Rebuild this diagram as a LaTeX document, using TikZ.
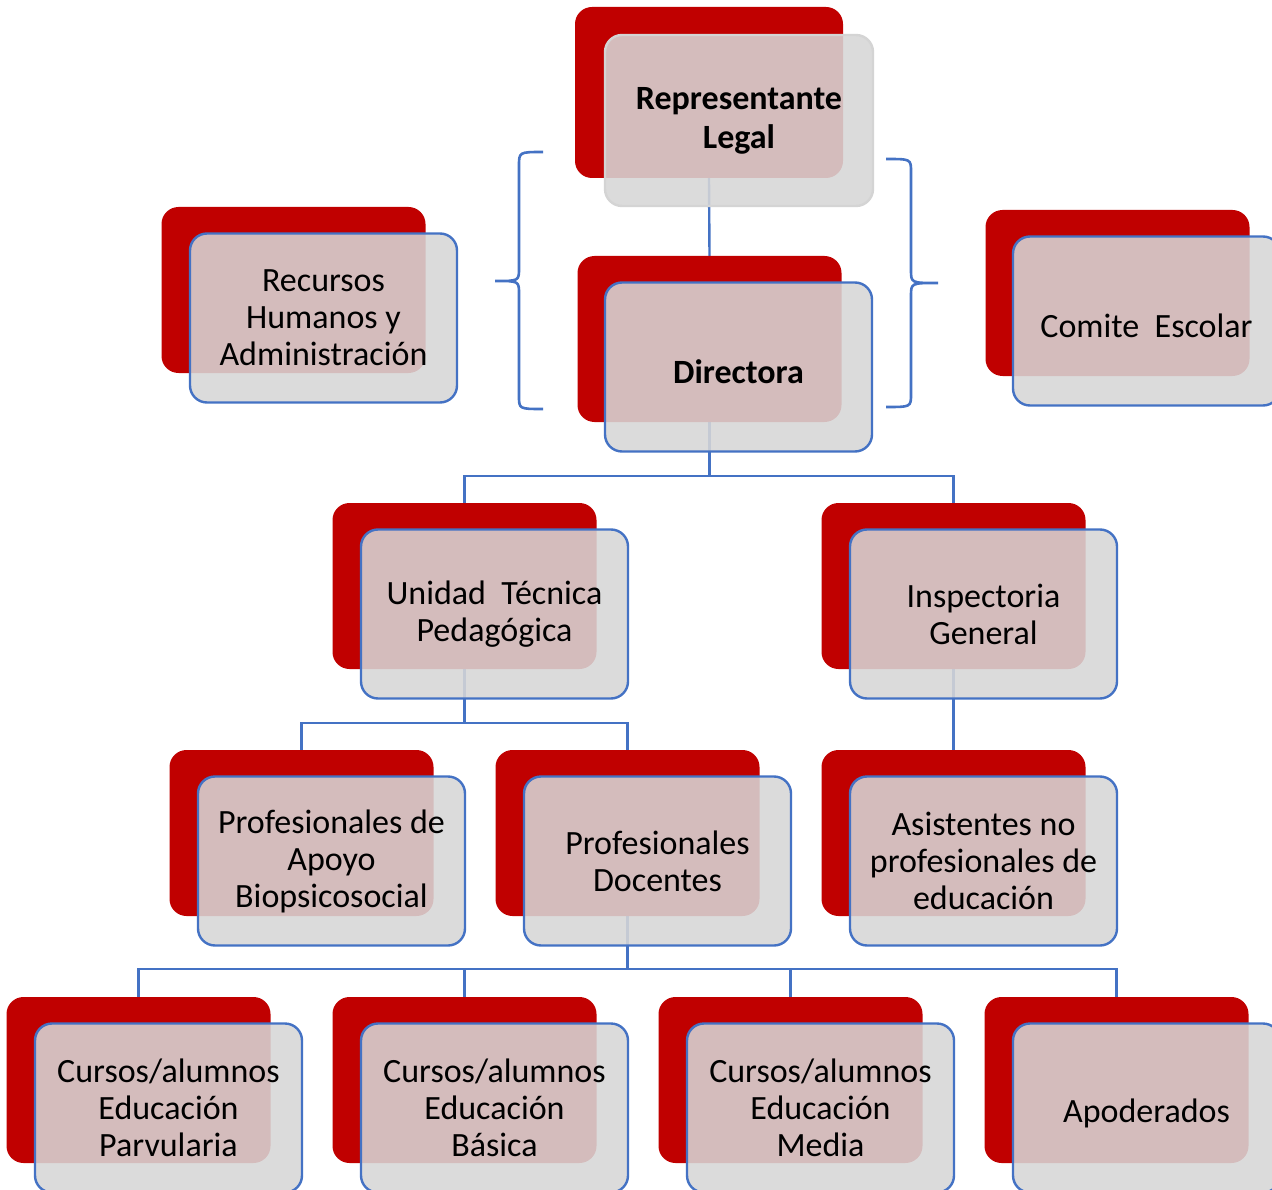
\documentclass[tikz,border=0pt]{standalone}
\usepackage{fontspec}
\setmainfont{Carlito}
\usetikzlibrary{backgrounds}

\definecolor{boxred}{RGB}{192,0,0}
\definecolor{boxgrey}{RGB}{215,215,215}
\definecolor{lineblue}{RGB}{68,114,196}
\definecolor{edgegrey}{RGB}{212,212,212}
\newcommand{\boxfont}{\fontsize{34}{37}\selectfont}

\tikzset{
  redbox/.style={rectangle, rounded corners=17pt, fill=boxred, inner sep=0pt,
    minimum width=264pt, minimum height=166pt},
  greybox/.style={rectangle, rounded corners=17pt, fill=boxgrey, fill opacity=0.88,
    text opacity=1, draw=lineblue, line width=2.4pt, inner sep=0pt, align=center,
    font=\boxfont, minimum width=267pt, minimum height=169pt,
    execute at begin node={\rule{0pt}{34pt}}},
  link/.style={draw=lineblue, line width=2.4pt},
  bracket/.style={draw=lineblue, line width=2.6pt},
}

\begin{document}
\begin{tikzpicture}[x=1pt,y=-1pt]
  \useasboundingbox (0,0) rectangle (1272,1190);
  \clip (0,0) rectangle (1272,1190);

  % top column
  \node[redbox, minimum width=268pt, minimum height=171pt] (rl) at (709,92.5) {};
  \node[greybox, draw=edgegrey, minimum width=268pt, minimum height=171pt] (rltext) at ([shift={(30,28)}]rl.center) {\textbf{Representante}\\[2pt]\textbf{Legal}};
  \node[redbox] (dir) at (709.5,339) {};
  \node[greybox] (dirtext) at ([shift={(29,28)}]dir.center) {\textbf{Directora}};

  % side boxes
  \node[redbox] (rh) at (293.5,290) {};
  \node[greybox] (rhtext) at ([shift={(30,28)}]rh.center) {Recursos\\Humanos y\\Administración};
  \node[redbox] (ce) at (1117.5,293) {};
  \node[greybox] (cetext) at ([shift={(29,28)}]ce.center) {Comite~ Escolar};

  % second level
  \node[redbox] (utp) at (464.5,586) {};
  \node[greybox] (utptext) at ([shift={(30,28)}]utp.center) {Unidad~ Técnica\\Pedagógica};
  \node[redbox] (ig) at (953.5,586) {};
  \node[greybox] (igtext) at ([shift={(30,28)}]ig.center) {Inspectoria\\General};

  % third level
  \node[redbox] (pa) at (301.5,833) {};
  \node[greybox] (patext) at ([shift={(30,28)}]pa.center) {Profesionales de\\Apoyo\\Biopsicosocial};
  \node[redbox] (pd) at (627.5,833) {};
  \node[greybox] (pdtext) at ([shift={(30,28)}]pd.center) {Profesionales\\Docentes};
  \node[redbox] (an) at (953.5,833) {};
  \node[greybox] (antext) at ([shift={(30,28)}]an.center) {Asistentes no\\profesionales de\\educación};

  % bottom level
  \node[redbox] (cp) at (138.5,1080) {};
  \node[greybox] (cptext) at ([shift={(30,28)}]cp.center) {Cursos/alumnos\\Educación\\Parvularia};
  \node[redbox] (cb) at (464.5,1080) {};
  \node[greybox] (cbtext) at ([shift={(30,28)}]cb.center) {Cursos/alumnos\\Educación\\Básica};
  \node[redbox] (cm) at (790.5,1080) {};
  \node[greybox] (cmtext) at ([shift={(30,28)}]cm.center) {Cursos/alumnos\\Educación\\Media};
  \node[redbox] (ap) at (1116.5,1080) {};
  \node[greybox] (aptext) at ([shift={(30,28)}]ap.center) {Apoderados};

  % braces round the top column
  \draw[bracket] (543,152) .. controls (519,152) .. (519,166) -- (519,268)
    .. controls (519,281) .. (495,281) .. controls (519,281) .. (519,294)
    -- (519,396) .. controls (519,409) .. (543,409);
  \draw[bracket] (886,159) .. controls (911,159) .. (911,172) -- (911,270)
    .. controls (911,283) .. (938,283) .. controls (911,283) .. (911,296)
    -- (911,394) .. controls (911,407) .. (886,407);

  % connectors behind the boxes
  \begin{scope}[on background layer]
    \fill[white] (0,0) rectangle (1272,1190);
    \draw[link] (rl.south) -- (dir.north);
    \draw[link] (dir.south) -- ++(0,54) -| (utp.north);
    \draw[link] (dir.south) -- ++(0,54) -| (ig.north);
    \draw[link] (utp.south) -- ++(0,54) -| (pa.north);
    \draw[link] (utp.south) -- ++(0,54) -| (pd.north);
    \draw[link] (ig.south) -- (an.north);
    \draw[link] (pd.south) -- ++(0,53) -| (cp.north);
    \draw[link] (pd.south) -- ++(0,53) -| (cb.north);
    \draw[link] (pd.south) -- ++(0,53) -| (cm.north);
    \draw[link] (pd.south) -- ++(0,53) -| (ap.north);
  \end{scope}
\end{tikzpicture}
\end{document}
